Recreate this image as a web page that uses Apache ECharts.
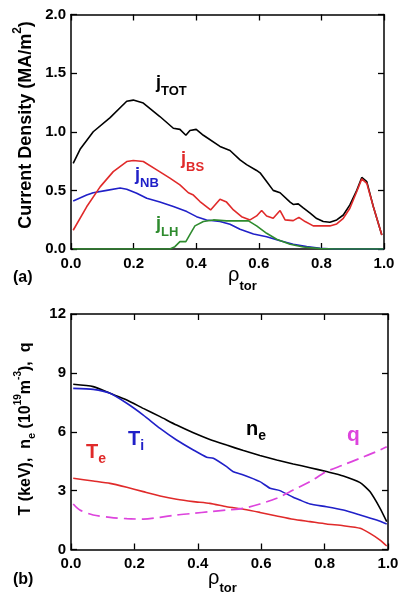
<!DOCTYPE html>
<html>
<head>
<meta charset="utf-8">
<script src="https://cdn.jsdelivr.net/npm/echarts@6/dist/echarts.min.js"></script>
<style>
html,body{margin:0;padding:0;background:#fff;}
#c{width:409px;height:605px;}
</style>
</head>
<body>
<div id="c"></div>
<script>
// ---- Panel (a): current density profiles ----
const jTotX = [0.007,0.029,0.071,0.125,0.178,0.199,0.231,0.284,0.327,0.348,0.367,0.38,0.40,0.423,0.476,0.508,0.54,0.561,0.593,0.604,0.625,0.646,0.668,0.70,0.71,0.726,0.742,0.764,0.785,0.806,0.827,0.849,0.87,0.891,0.913,0.929,0.945,0.966,0.993];
const jTotY = [0.73,0.85,1.0,1.12,1.26,1.27,1.245,1.13,1.03,1.02,0.97,1.01,1.02,0.97,0.875,0.84,0.76,0.72,0.67,0.65,0.575,0.50,0.48,0.40,0.38,0.385,0.35,0.305,0.26,0.234,0.228,0.248,0.29,0.376,0.50,0.61,0.575,0.36,0.12];

const jBsX = [0.007,0.05,0.093,0.135,0.178,0.199,0.231,0.274,0.316,0.348,0.375,0.391,0.412,0.446,0.46,0.476,0.497,0.519,0.545,0.572,0.593,0.609,0.625,0.646,0.668,0.684,0.71,0.728,0.748,0.774,0.806,0.827,0.849,0.87,0.891,0.913,0.929,0.945,0.966,0.993];
const jBsY = [0.16,0.36,0.53,0.66,0.746,0.755,0.746,0.675,0.604,0.547,0.48,0.46,0.405,0.333,0.376,0.425,0.40,0.333,0.276,0.248,0.282,0.328,0.282,0.262,0.328,0.248,0.242,0.27,0.234,0.197,0.197,0.197,0.214,0.262,0.348,0.49,0.598,0.56,0.36,0.12];

const jNbX = [0.007,0.05,0.071,0.114,0.157,0.178,0.21,0.242,0.284,0.327,0.37,0.401,0.433,0.476,0.508,0.54,0.583,0.625,0.668,0.71,0.753,0.796,0.838,0.998];
const jNbY = [0.41,0.46,0.48,0.50,0.52,0.51,0.476,0.433,0.40,0.362,0.319,0.276,0.248,0.234,0.211,0.168,0.128,0.105,0.071,0.04,0.02,0.006,0,0];

const jLhX = [0.007,0.316,0.332,0.348,0.367,0.382,0.396,0.423,0.455,0.497,0.54,0.567,0.593,0.625,0.657,0.70,0.742,0.796,0.838,0.998];
const jLhY = [0,0,0.02,0.063,0.063,0.134,0.197,0.234,0.248,0.24,0.24,0.24,0.197,0.134,0.083,0.04,0.017,0.003,0,0];

// ---- Panel (b): T, n_e, q profiles ----
const neX = [0.007,0.07,0.123,0.176,0.228,0.281,0.333,0.386,0.438,0.491,0.544,0.596,0.649,0.701,0.754,0.806,0.859,0.912,0.943,0.975,0.996];
const neY = [8.42,8.30,7.96,7.62,7.19,6.77,6.34,5.95,5.61,5.32,5.04,4.79,4.56,4.36,4.17,3.97,3.75,3.41,2.95,2.10,1.42];

const tiX = [0.007,0.07,0.123,0.176,0.228,0.281,0.333,0.386,0.428,0.449,0.491,0.512,0.544,0.596,0.628,0.659,0.701,0.722,0.754,0.806,0.859,0.912,0.964,0.996];
const tiY = [8.21,8.16,7.96,7.45,6.85,6.17,5.58,5.07,4.70,4.65,4.22,3.96,3.80,3.46,3.12,3.00,2.66,2.52,2.32,2.18,2.01,1.76,1.50,1.30];

const teX = [0.007,0.07,0.123,0.176,0.228,0.281,0.333,0.386,0.438,0.491,0.544,0.596,0.649,0.701,0.754,0.806,0.859,0.912,0.943,0.975,0.996];
const teY = [3.63,3.49,3.37,3.17,2.95,2.73,2.56,2.44,2.35,2.18,2.05,1.89,1.71,1.54,1.42,1.30,1.21,1.08,0.82,0.48,0.18];

const qX = [0.007,0.028,0.07,0.123,0.176,0.228,0.281,0.333,0.386,0.438,0.491,0.544,0.596,0.649,0.701,0.754,0.806,0.859,0.912,0.964,0.996];
const qY = [2.32,2.01,1.76,1.64,1.57,1.55,1.64,1.76,1.84,1.93,2.01,2.10,2.32,2.61,3.03,3.46,3.97,4.31,4.65,4.99,5.24];

// Tick labels
const xTicksA = [0, 0.2, 0.4, 0.6, 0.8, 1.0];
const yTicksA = [0, 0.5, 1.0, 1.5, 2.0];
const yTicksB = [0, 3, 6, 9, 12];

const FONT = '"Liberation Sans", Arial, Helvetica, sans-serif';
const pairs = (xs, ys) => xs.map((x, i) => [x, ys[i]]);

const chart = echarts.init(document.getElementById('c'), null, {renderer: 'canvas'});

const axisLine = {show: true, onZero: false, lineStyle: {color: '#000', width: 1.5}};
const tick = {show: true, inside: true, length: 6, lineStyle: {color: '#000', width: 1.3}};
const lbl = {color: '#000', fontFamily: FONT, fontWeight: 'bold', fontSize: 15};

function xAx(grid, pos, show) {
  return {type: 'value', gridIndex: grid, position: pos, min: 0, max: 1, interval: 0.2,
    axisLine, axisTick: tick, splitLine: {show: false},
    axisLabel: show ? Object.assign({margin: 7, formatter: v => v.toFixed(1)}, lbl) : {show: false}};
}
function yAx(grid, pos, show, max, interval, dec) {
  return {type: 'value', gridIndex: grid, position: pos, min: 0, max, interval,
    axisLine, axisTick: tick, splitLine: {show: false},
    axisLabel: show ? Object.assign({margin: 5, formatter: v => v.toFixed(dec)}, lbl) : {show: false}};
}
function line(name, xi, yi, data, color, extra) {
  return Object.assign({type: 'line', name, xAxisIndex: xi, yAxisIndex: yi, data,
    symbol: 'none', smooth: false, lineStyle: {color, width: 1.6}, z: 3}, extra || {});
}

const subRich = (mainSize, subSize, pad) => ({
  m: {fontFamily: FONT, fontWeight: 'bold', fontSize: mainSize, lineHeight: mainSize + 2, verticalAlign: 'top'},
  s: {fontFamily: FONT, fontWeight: 'bold', fontSize: subSize, lineHeight: subSize + 1, padding: [pad, 0, 0, 0], verticalAlign: 'top'}
});
function ann(x, y, main, sub, color, ms, ss, pad) {
  const rich = subRich(ms, ss, pad);
  rich.m.fill = color; rich.s.fill = color;
  return {type: 'text', x, y, z: 10,
    style: {text: '{m|' + main + '}{s|' + sub + '}', rich, fill: color, textVerticalAlign: 'top'}};
}

const yTitleRich = (ms) => ({
  m: {fontFamily: FONT, fontWeight: 'bold', fontSize: ms, lineHeight: ms + 2, padding: [5, 0, 0, 0], verticalAlign: 'top', fill: '#000'},
  s: {fontFamily: FONT, fontWeight: 'bold', fontSize: ms - 5, lineHeight: ms - 4, padding: [13, 0, 0, 0], verticalAlign: 'top', fill: '#000'},
  p: {fontFamily: FONT, fontWeight: 'bold', fontSize: ms - 6, lineHeight: ms - 5, padding: [0, 0, 0, 0], verticalAlign: 'top', fill: '#000'}
});
const rhoRich = (pad) => ({
  r: {fontFamily: FONT, fontSize: 20, lineHeight: 22, verticalAlign: 'top', fill: '#000'},
  s: {fontFamily: FONT, fontWeight: 'bold', fontSize: 13, lineHeight: 14, padding: [pad, 0, 0, 0], verticalAlign: 'top', fill: '#000'}
});

const option = {
  backgroundColor: '#fff',
  animation: false,
  grid: [
    {left: 71, top: 14.5, width: 313, height: 234.5},
    {left: 71, top: 314, width: 317, height: 235.5}
  ],
  xAxis: [xAx(0, 'bottom', true), xAx(0, 'top', false), xAx(1, 'bottom', true), xAx(1, 'top', false)],
  yAxis: [yAx(0, 'left', true, 2.0, 0.5, 1), yAx(0, 'right', false, 2.0, 0.5, 1),
          yAx(1, 'left', true, 12, 3, 0), yAx(1, 'right', false, 12, 3, 0)],
  series: [
    line('jTOT', 0, 0, pairs(jTotX, jTotY), '#000000'),
    line('jNB', 0, 0, pairs(jNbX, jNbY), '#2020c8'),
    line('jLH', 0, 0, pairs(jLhX, jLhY), '#2e8b2e', {z: 4}),
    line('jBS', 0, 0, pairs(jBsX, jBsY), '#e02a2a'),
    line('ne', 2, 2, pairs(neX, neY), '#000000', {smooth: 0.2}),
    line('Ti', 2, 2, pairs(tiX, tiY), '#2020c8', {smooth: 0.2}),
    line('Te', 2, 2, pairs(teX, teY), '#e02a2a', {smooth: 0.2}),
    line('q', 2, 2, pairs(qX, qY), '#dd44dd', {smooth: 0.3, lineStyle: {color: '#dd44dd', width: 1.7, type: [12, 6]}})
  ],
  graphic: [
    // panel (a) annotations
    ann(156, 74, 'j', 'TOT', '#000000', 18, 13, 11),
    ann(181, 150, 'j', 'BS', '#e02a2a', 18, 13, 11),
    ann(135, 166, 'j', 'NB', '#2020c8', 18, 13, 11),
    ann(156, 215, 'j', 'LH', '#2e8b2e', 18, 13, 11),
    // panel (b) annotations
    ann(246, 419, 'n', 'e', '#000000', 20, 14, 10),
    ann(128, 429, 'T', 'i', '#2020c8', 20, 14, 10),
    ann(86, 442, 'T', 'e', '#e02a2a', 20, 14, 10),
    {type: 'text', x: 347, y: 425, z: 10, style: {text: 'q', fill: '#dd44dd', font: 'bold 21px ' + FONT, textVerticalAlign: 'top'}},
    // y-axis titles
    {type: 'text', x: 22, y: 125, rotation: Math.PI / 2, z: 10,
      style: {text: '{m|Current Density (MA/m}{p|2}{m|)}', rich: yTitleRich(18), textAlign: 'center', textVerticalAlign: 'middle'}},
    {type: 'text', x: 22, y: 429, rotation: Math.PI / 2, z: 10,
      style: {text: '{m|T (keV),  n}{s|e}{m| (10}{p|19}{m|m}{p|-3}{m|),  q}', rich: yTitleRich(16), textAlign: 'center', textVerticalAlign: 'middle'}},
    // x-axis names
    {type: 'text', x: 228, y: 265, z: 10, style: {text: '{r|ρ}{s|tor}', rich: rhoRich(15), textVerticalAlign: 'top'}},
    {type: 'text', x: 208, y: 568, z: 10, style: {text: '{r|ρ}{s|tor}', rich: rhoRich(14), textVerticalAlign: 'top'}},
    // panel labels
    {type: 'text', x: 13, y: 278, z: 10, style: {text: '(a)', fill: '#000', font: 'bold 16px ' + FONT, textVerticalAlign: 'middle'}},
    {type: 'text', x: 13, y: 580, z: 10, style: {text: '(b)', fill: '#000', font: 'bold 16px ' + FONT, textVerticalAlign: 'middle'}}
  ]
};
chart.setOption(option);
</script>
</body>
</html>
